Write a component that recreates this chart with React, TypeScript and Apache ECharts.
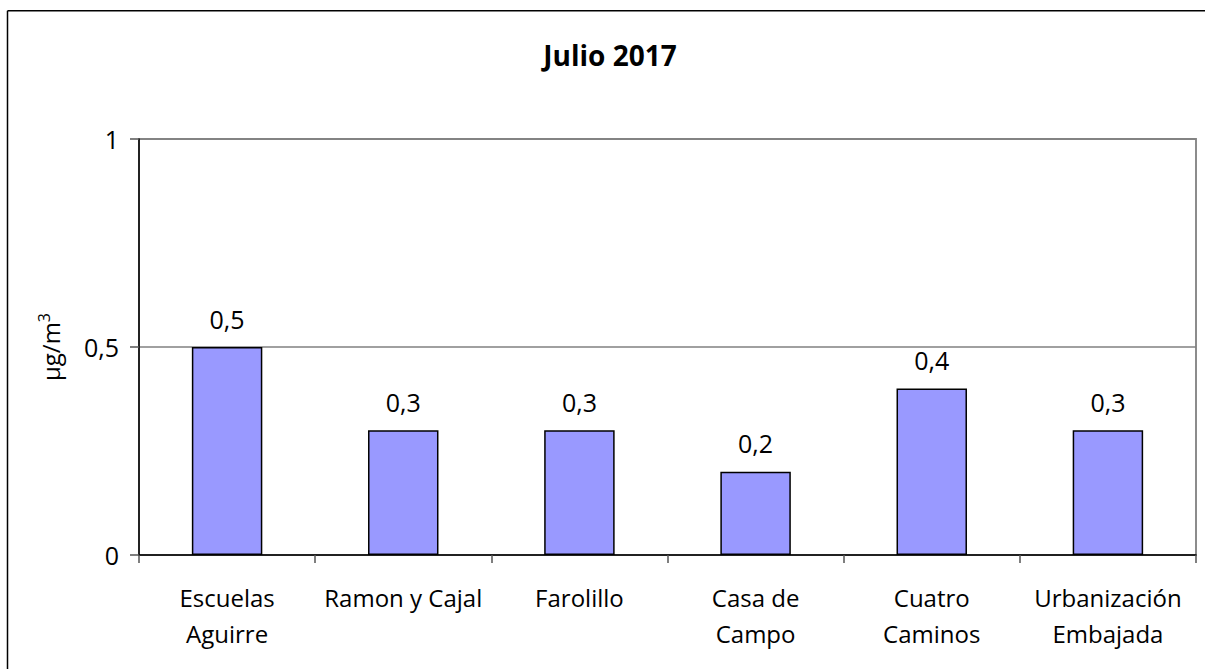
import React, { useEffect, useRef } from "react";
import * as echarts from "echarts";

const titleText = "Julio 2017";
const categories = [
  "Escuelas\nAguirre",
  "Ramon y Cajal",
  "Farolillo",
  "Casa de\nCampo",
  "Cuatro\nCaminos",
  "Urbanización\nEmbajada",
];
const values = [0.5, 0.3, 0.3, 0.2, 0.4, 0.3];
const yMin = 0;
const yMax = 1;
const yInterval = 0.5;

const FONT = "Open Sans";
const fmt = (v: number) => String(v).replace(".", ",");

export default function App() {
  const ref = useRef<HTMLDivElement>(null);
  useEffect(() => {
    document.body.style.margin = "0";
    document.body.style.overflow = "hidden";
    const chart = echarts.init(ref.current!, null, { renderer: "svg" });
    chart.setOption({
      animation: false,
      backgroundColor: "#ffffff",
      textStyle: { fontFamily: FONT },
      title: {
        text: titleText,
        left: 605,
        textAlign: "center",
        top: 36,
        textStyle: { fontFamily: FONT, fontSize: 28, fontWeight: "bold", color: "#000" },
      },
      graphic: [
        {
          type: "line",
          shape: { x1: 7.5, y1: 10.8, x2: 7.5, y2: 669 },
          style: { stroke: "#000", lineWidth: 1.5 },
          silent: true,
          z: 100,
        },
        {
          type: "line",
          shape: { x1: 7.5, y1: 10.8, x2: 1205, y2: 10.8 },
          style: { stroke: "#000", lineWidth: 1.5 },
          silent: true,
          z: 100,
        },
      ],
      grid: {
        left: 139,
        top: 139,
        right: 9,
        bottom: 114,
        show: true,
        borderColor: "#8c8c8c",
        borderWidth: 2,
        backgroundColor: "#fff",
      },
      xAxis: {
        type: "category",
        data: categories,
        boundaryGap: true,
        axisLine: { show: true, lineStyle: { color: "#000", width: 1.5 } },
        axisTick: { show: true, length: 8, alignWithLabel: false, interval: 0, lineStyle: { color: "#555", width: 1.5 } },
        axisLabel: {
          interval: 0,
          margin: 24,
          color: "#000",
          fontFamily: FONT,
          fontSize: 24,
          lineHeight: 36,
        },
        splitLine: { show: false },
      },
      yAxis: {
        type: "value",
        min: yMin,
        max: yMax,
        interval: yInterval,
        name: "µg/m{sup|3}",
        nameLocation: "middle",
        nameGap: 75,
        nameTextStyle: {
          color: "#000",
          fontFamily: FONT,
          fontSize: 24,
          rich: {
            sup: { fontSize: 16, verticalAlign: "top", padding: [0, 0, 12, 0], fontFamily: FONT, color: "#000" },
          },
        },
        axisLine: { show: true, lineStyle: { color: "#000", width: 1.5 } },
        axisTick: { show: true, length: 9, lineStyle: { color: "#555", width: 1.5 } },
        axisLabel: {
          margin: 20,
          color: "#000",
          fontFamily: FONT,
          fontSize: 25,
          formatter: (v: number) => fmt(v),
        },
        splitLine: { show: true, lineStyle: { color: "#808080", width: 1.5 } },
      },
      series: [
        {
          type: "bar",
          data: values,
          barWidth: "40%",
          itemStyle: { color: "#9999ff", borderColor: "#000", borderWidth: 1.5 },
          label: {
            show: true,
            position: "top",
            distance: 16,
            color: "#000",
            fontFamily: FONT,
            fontSize: 25,
            formatter: (p: any) => fmt(p.value),
          },
        },
      ],
    });
    return () => chart.dispose();
  }, []);
  return <div ref={ref} style={{ width: 1205, height: 669 }} />;
}
